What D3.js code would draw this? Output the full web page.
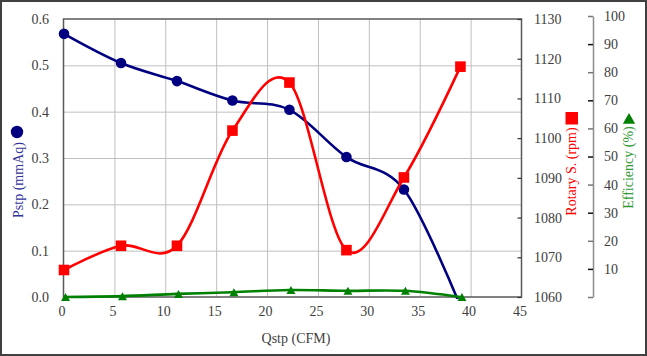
<!DOCTYPE html>
<html><head><meta charset="utf-8">
<script src="https://cdn.jsdelivr.net/npm/d3@7"></script>
<style>body{margin:0;background:#fff}svg{display:block}svg text{font-family:"Liberation Serif","Times New Roman",serif;}</style>
</head><body><svg id="c" width="647" height="356"></svg>
<script>
// ---- data ----
const qstp       = [0.05, 5.65, 11.15, 16.6, 22.2, 27.8, 33.45, 39.0];
const pstp       = [0.568, 0.505, 0.466, 0.424, 0.404, 0.302, 0.232, -0.02];
const rotary     = [1066.8, 1072.9, 1072.9, 1101.9, 1114.0, 1071.8, 1090.1, 1118.0];
const efficiency = [0.0, 0.3, 1.1, 1.7, 2.5, 2.2, 2.2, 0.0];
const xTicks = [0, 5, 10, 15, 20, 25, 30, 35, 40, 45];
const pTicks = [0.0, 0.1, 0.2, 0.3, 0.4, 0.5, 0.6];
const rTicks = [1060, 1070, 1080, 1090, 1100, 1110, 1120, 1130];
const eTicks = [0, 10, 20, 30, 40, 50, 60, 70, 80, 90, 100];
const xTitle = "Qstp (CFM)", pTitle = "Pstp (mmAq)", rTitle = "Rotary S. (rpm)", eTitle = "Efficiency (%)";

// ---- layout ----
const L = 63.5, R = 521.5, T = 19, B = 297;
const FONT = '"Liberation Serif","Times New Roman",serif';
const TICKC = "#404040";
const BLUE = "#000080", RED = "#ff0000", GREEN = "#008000";

const svg = d3.select("#c");
svg.append("rect").attr("x",1).attr("y",1).attr("width",645).attr("height",354)
  .attr("fill","#fff").attr("stroke","#404040").attr("stroke-width",2);

const x  = d3.scaleLinear().domain([0,45]).range([L,R]);
const y  = d3.scaleLinear().domain([0,0.6]).range([B,T]);
const yR = d3.scaleLinear().domain([1060,1130]).range([B,T]);
const yE = d3.scaleLinear().domain([0,100]).range([B,16]);

// gridlines
const gx = svg.append("g").attr("transform",`translate(0,${B})`)
  .call(d3.axisBottom(x).tickValues(xTicks.slice(1,-1)).tickSize(-(B-T)).tickFormat(""));
gx.select(".domain").remove();
gx.selectAll("line").attr("stroke","#bfbfbf").attr("stroke-width",1);
const gy = svg.append("g").attr("transform",`translate(${L},0)`)
  .call(d3.axisLeft(y).tickValues(pTicks.slice(1,-1)).tickSize(-(R-L)).tickFormat(""));
gy.select(".domain").remove();
gy.selectAll("line").attr("stroke","#bfbfbf").attr("stroke-width",1);

// frame
svg.append("rect").attr("x",L).attr("y",T).attr("width",R-L).attr("height",B-T)
  .attr("fill","none").attr("stroke","#595959").attr("stroke-width",1.5);

function styleAxis(g){
  g.attr("font-family",null).attr("font-size",14);
  g.selectAll("text").style("font-family",FONT).style("font-size","14px").attr("fill",TICKC);
}
// left axis
const ay = svg.append("g").attr("transform",`translate(${L},0)`)
  .call(d3.axisLeft(y).tickValues(pTicks).tickFormat(d3.format(".1f")).tickSize(0).tickPadding(14.5));
ay.select(".domain").remove(); styleAxis(ay);
// bottom axis
const ax = svg.append("g").attr("transform",`translate(0,${B})`)
  .call(d3.axisBottom(x).tickValues(xTicks).tickFormat(d3.format("d")).tickSize(0).tickPadding(9));
ax.select(".domain").remove(); styleAxis(ax);
ax.selectAll("text").attr("dx","-2");
// rotary axis
const ar = svg.append("g").attr("transform",`translate(${R},0)`)
  .call(d3.axisRight(yR).tickValues(rTicks).tickFormat(d3.format("d")).tickSizeInner(-4).tickSizeOuter(0).tickPadding(12.5));
ar.select(".domain").remove(); styleAxis(ar);
ar.selectAll("line").attr("stroke","#333").attr("stroke-width",1.2);
// efficiency axis
const ae = svg.append("g").attr("transform",`translate(593,0)`)
  .call(d3.axisRight(yE).tickValues(eTicks).tickSizeInner(-5).tickSizeOuter(0).tickPadding(11)
    .tickFormat(d => d === 0 ? "" : d3.format("d")(d)));
ae.select(".domain").attr("stroke","#8c8c8c").attr("stroke-width",1.5);
styleAxis(ae);
ae.selectAll("line").attr("stroke",d => (d/10)%2 ? "#111" : "#777").attr("stroke-width",1.5);

// clip
svg.append("clipPath").attr("id","clip").append("rect")
  .attr("x",L).attr("y",T).attr("width",R-L).attr("height",B-T+2);

const curve = d3.curveCatmullRom.alpha(0);
const plot = svg.append("g");
function series(vals, sc, color){
  const pts = qstp.map((q,i)=>[q, vals[i]]);
  plot.append("path").datum(pts).attr("clip-path","url(#clip)")
    .attr("fill","none").attr("stroke",color).attr("stroke-width",2.6)
    .attr("d", d3.line().x(d=>x(d[0])).y(d=>sc(d[1])).curve(curve));
  const [lo,hi] = sc.domain();
  return pts.filter(d => d[1] >= lo && d[1] <= hi);
}
const triPath = (cx,cy,w,h) => `M${cx},${cy-h/2}L${cx+w/2},${cy+h/2}L${cx-w/2},${cy+h/2}Z`;

const pb = series(pstp, y, BLUE);
plot.selectAll(".cb").data(pb).join("circle")
  .attr("cx",d=>x(d[0])).attr("cy",d=>y(d[1])).attr("r",5.3).attr("fill",BLUE);
const pr = series(rotary, yR, RED);
plot.selectAll(".sr").data(pr).join("rect")
  .attr("x",d=>x(d[0])-5.3).attr("y",d=>yR(d[1])-5.3).attr("width",10.6).attr("height",10.6).attr("fill",RED);
const pg = series(efficiency, yE, GREEN);
plot.selectAll(".tg").data(pg).join("path")
  .attr("d",d=>triPath(x(d[0])+1.5, yE(d[1]), 9, 8)).attr("fill",GREEN);

// titles
svg.append("text").attr("x",296).attr("y",338).attr("dy","0.35em").attr("text-anchor","middle")
  .style("font-family",FONT).style("font-size","14px").attr("fill",TICKC).text(xTitle);
function vtitle(cx, cy, txt, color){
  svg.append("text").attr("transform",`translate(${cx},${cy}) rotate(-90)`)
    .attr("dy","0.35em").attr("text-anchor","middle")
    .style("font-family",FONT).style("font-size","14px").attr("fill",color).text(txt);
}
vtitle(18.5, 180, pTitle, "#333399");
vtitle(571.5, 171.5, rTitle, RED);
vtitle(628, 167.5, eTitle, "#339933");
svg.append("circle").attr("cx",17).attr("cy",132).attr("r",6.2).attr("fill",BLUE);
svg.append("rect").attr("x",565.5).attr("y",112).attr("width",12.5).attr("height",12.5).attr("fill",RED);
svg.append("path").attr("d",triPath(629,118.3,12.3,10.7)).attr("fill",GREEN);
</script></body></html>
